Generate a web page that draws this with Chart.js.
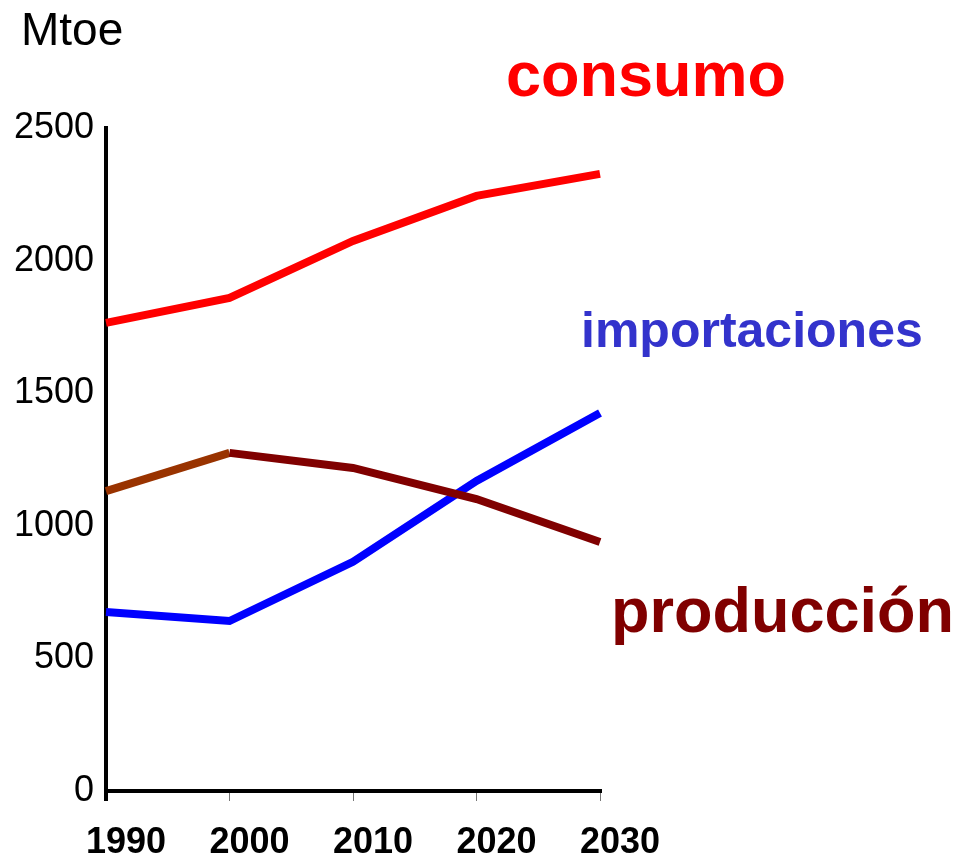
<!DOCTYPE html>
<html>
<head>
<meta charset="utf-8">
<script src="https://cdn.jsdelivr.net/npm/chart.js@4"></script>
<style>
  html, body { margin: 0; padding: 0; background: #fff; }
  #wrap { width: 965px; height: 855px; position: relative; }
</style>
</head>
<body>
<div id="wrap"><canvas id="energy-chart"></canvas></div>
<script>
const years = ['1990', '2000', '2010', '2020', '2030'];
const consumo = [1765, 1859, 2074, 2244, 2327];
const importaciones = [675, 641, 864, 1169, 1425];
const produccion = [1131, 1275, 1218, 1101, 939];
const yTicks = [0, 500, 1000, 1500, 2000, 2500];

const FONT = '"Liberation Sans", Arial, sans-serif';

// series names written beside the lines, plus the unit label
const labelsPlugin = {
    id: 'seriesLabels',
    afterDraw(chart) {
        const c = chart.ctx;
        c.save();
        c.textAlign = 'left';
        c.textBaseline = 'alphabetic';
        c.fillStyle = '#000';
        c.font = '46px ' + FONT;
        c.fillText('Mtoe', 21, 45);
        c.font = 'bold 63px ' + FONT;
        c.fillStyle = '#ff0000';
        c.fillText('consumo', 506, 96);
        c.font = 'bold 50px ' + FONT;
        c.fillStyle = '#3333cc';
        c.fillText('importaciones', 581, 347);
        c.font = 'bold 63px ' + FONT;
        c.fillStyle = '#800000';
        c.fillText('producción', 611, 632);
        c.restore();
    }
};

const ctx = document.getElementById('energy-chart').getContext('2d');
const chart = new Chart(ctx, {
    type: 'line',
    data: {
        labels: years,
        datasets: [{
            label: 'consumo',
            data: consumo,
            borderColor: '#ff0000',
            borderWidth: 8,
            pointRadius: 0,
            tension: 0
        }, {
            label: 'producción',
            data: produccion,
            borderColor: '#800000',
            borderWidth: 8,
            pointRadius: 0,
            tension: 0,
            segment: {
                borderColor: s => s.p0DataIndex === 0 ? '#993300' : '#800000'
            }
        }, {
            label: 'importaciones',
            data: importaciones,
            borderColor: '#0000ff',
            borderWidth: 8,
            pointRadius: 0,
            tension: 0
        }]
    },
    options: {
        responsive: true,
        maintainAspectRatio: false,
        animation: false,
        layout: {
            padding: { left: 0, right: 365, top: 128, bottom: 0 }
        },
        plugins: {
            legend: { display: false },
            tooltip: { enabled: false }
        },
        scales: {
            x: {
                offset: false,
                afterFit: s => { s.height = 64; },
                border: { color: '#000', width: 4 },
                grid: {
                    drawOnChartArea: false,
                    drawTicks: true,
                    tickLength: 10,
                    color: c => c.index === 0 ? '#000' : '#777',
                    lineWidth: c => c.index === 0 ? 4 : 1
                },
                ticks: {
                    color: '#000',
                    font: { family: FONT, size: 36, weight: 'bold' },
                    padding: 20,
                    labelOffset: 20,
                    maxRotation: 0
                }
            },
            y: {
                min: yTicks[0],
                max: yTicks[yTicks.length - 1],
                afterFit: s => { s.width = 106; },
                afterBuildTicks: s => { s.ticks = yTicks.map(v => ({ value: v })); },
                border: { color: '#000', width: 4 },
                grid: { display: false },
                ticks: {
                    color: '#000',
                    font: { family: FONT, size: 36 },
                    padding: 4,
                    callback: v => String(v)
                }
            }
        }
    },
    plugins: [labelsPlugin]
});
</script>
</body>
</html>
